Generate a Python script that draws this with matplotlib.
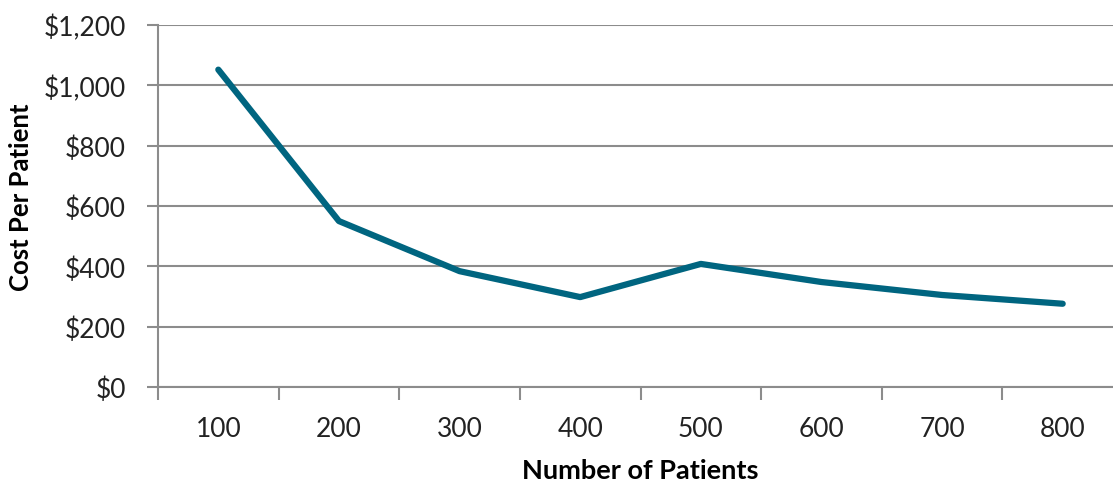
import matplotlib.pyplot as plt
import numpy as np
from matplotlib.ticker import FuncFormatter, FixedLocator

# data
patients = ['100', '200', '300', '400', '500', '600', '700', '800']
cost_per_patient = [1052, 550, 384, 298, 408, 348, 305, 276]

plt.rcParams['font.family'] = ['Lato', 'DejaVu Sans']

fig = plt.figure(figsize=(11.13, 4.85), dpi=100)
# axes a bit wider than the figure: the right edge is cropped in the original
ax = fig.add_axes([158 / 1113, 97 / 485, 965 / 1113, 362 / 485])

x = np.arange(1, len(patients) + 1)
ax.plot(x, cost_per_patient, color='#006580', linewidth=4.5,
        solid_capstyle='round', solid_joinstyle='round', zorder=3)

grey = '#8c8c8c'
ax.set_xlim(0.5, len(patients) + 0.5)
ax.set_ylim(0, 1200)
ax.set_yticks(np.arange(0, 1201, 200))
ax.yaxis.set_major_formatter(FuncFormatter(lambda v, p: '${:,.0f}'.format(v)))
ax.grid(axis='y', color=grey, linewidth=1.5, zorder=1)

# ticks between categories, labels on the categories
ax.xaxis.set_major_locator(FixedLocator(np.arange(0.5, len(patients) + 1, 1)))
ax.xaxis.set_minor_locator(FixedLocator(x))
ax.set_xticklabels([])
ax.set_xticklabels(patients, minor=True)
ax.tick_params(axis='x', which='major', length=9, width=1.5, color=grey)
ax.tick_params(axis='x', which='minor', length=0, pad=21, labelsize=19, labelcolor='#222222')
ax.tick_params(axis='y', length=8, width=1.5, color=grey, labelsize=19,
               labelcolor='#222222', pad=15)

for s in ['top', 'right']:
    ax.spines[s].set_visible(False)
for s in ['left', 'bottom']:
    ax.spines[s].set_color(grey)
    ax.spines[s].set_linewidth(1.5)

ax.set_ylabel('Cost Per Patient', fontsize=18.5, fontweight='bold')
ax.set_xlabel('Number of Patients', fontsize=19.5, fontweight='bold')
ax.yaxis.set_label_coords(-0.13, 0.528)
ax.xaxis.set_label_coords(0.5, -0.197)

fig.savefig('out.png', dpi=100)
